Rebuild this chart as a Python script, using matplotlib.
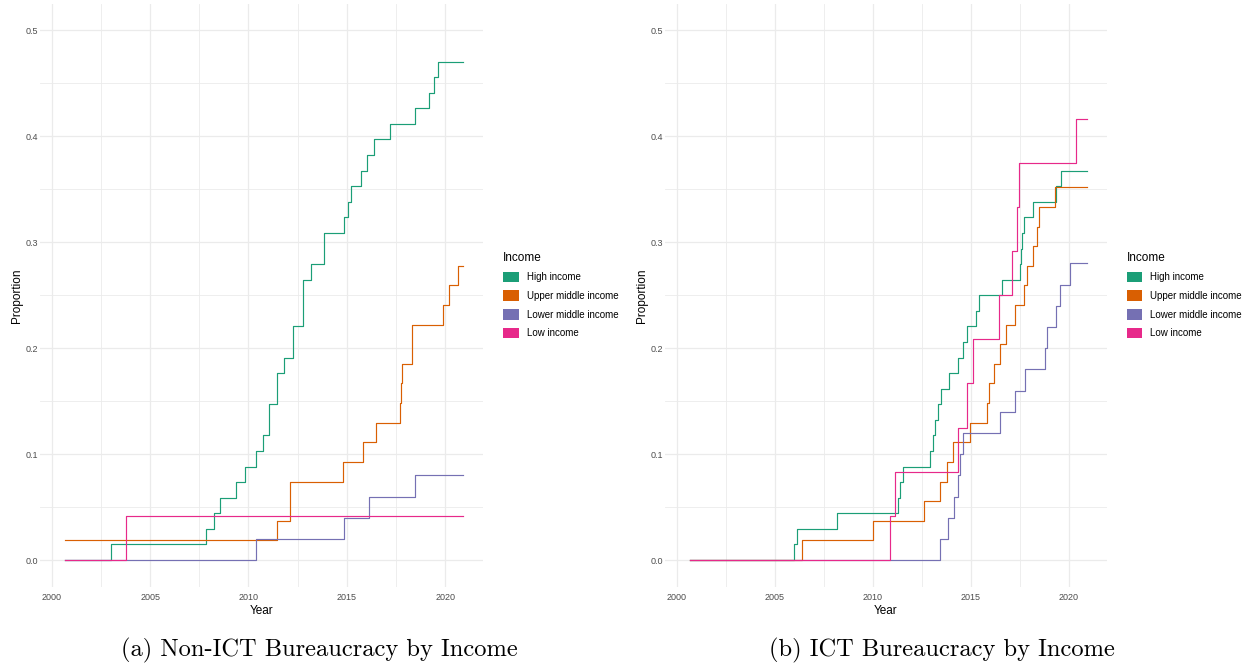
import numpy as np
import matplotlib
matplotlib.use("Agg")
from matplotlib import pyplot as plt
from matplotlib.patches import Patch

plt.rcParams['font.family'] = ['Liberation Sans', 'DejaVu Sans']

# Dark2 palette used for the income groups
groups = ["High income", "Upper middle income", "Lower middle income", "Low income"]
colors = ["#1B9E77", "#D95F02", "#7570B3", "#E7298A"]

# (a) Non-ICT bureaucracy: step change years and proportions
nonict_high_x = [2000.67, 2003.0, 2007.85, 2008.27, 2008.53, 2009.37, 2009.81, 2010.36, 2010.73,
                 2011.05, 2011.44, 2011.8, 2012.29, 2012.8, 2013.19, 2013.86, 2014.88, 2015.08,
                 2015.22, 2015.71, 2016.05, 2016.39, 2017.2, 2018.47, 2019.2, 2019.46, 2019.64, 2020.93]
nonict_high_y = [0.0, 0.0147, 0.0294, 0.0441, 0.0588, 0.0735, 0.0882, 0.1029, 0.1176,
                 0.1471, 0.1765, 0.1912, 0.2206, 0.2647, 0.2794, 0.3088, 0.3235, 0.3382,
                 0.3529, 0.3676, 0.3824, 0.3971, 0.4118, 0.4265, 0.4412, 0.4559, 0.4706, 0.4706]
nonict_upper_x = [2000.67, 2011.44, 2012.12, 2014.8, 2015.85, 2016.47, 2017.69, 2017.74, 2017.8,
                  2018.3, 2019.88, 2020.22, 2020.64, 2020.93]
nonict_upper_y = [0.0185, 0.037, 0.0741, 0.0926, 0.1111, 0.1296, 0.1481, 0.1667, 0.1852,
                  0.2222, 0.2407, 0.2593, 0.2778, 0.2778]
nonict_lower_x = [2000.67, 2010.36, 2014.88, 2016.12, 2018.47, 2020.93]
nonict_lower_y = [0.0, 0.02, 0.04, 0.06, 0.08, 0.08]
nonict_low_x = [2000.67, 2003.76, 2020.93]
nonict_low_y = [0.0, 0.0417, 0.0417]

# (b) ICT bureaucracy
ict_high_x = [2000.67, 2005.98, 2006.15, 2008.17, 2011.3, 2011.4, 2011.52, 2012.92, 2013.05,
              2013.15, 2013.3, 2013.5, 2013.88, 2014.36, 2014.6, 2014.78, 2015.25, 2015.42,
              2016.6, 2017.5, 2017.56, 2017.63, 2017.72, 2018.17, 2019.32, 2019.6, 2020.93]
ict_high_y = [0.0, 0.0147, 0.0294, 0.0441, 0.0588, 0.0735, 0.0882, 0.1029, 0.1176,
              0.1324, 0.1471, 0.1618, 0.1765, 0.1912, 0.2059, 0.2206, 0.2353, 0.25,
              0.2647, 0.2794, 0.2941, 0.3088, 0.3235, 0.3382, 0.3529, 0.3676, 0.3676]
ict_upper_x = [2000.67, 2006.4, 2010.03, 2012.6, 2013.42, 2013.8, 2014.1, 2014.95, 2015.8,
               2015.9, 2016.17, 2016.47, 2016.8, 2017.27, 2017.7, 2017.86, 2018.17, 2018.35,
               2018.47, 2019.27, 2020.93]
ict_upper_y = [0.0, 0.0185, 0.037, 0.0556, 0.0741, 0.0926, 0.1111, 0.1296, 0.1481,
               0.1667, 0.1852, 0.2037, 0.2222, 0.2407, 0.2593, 0.2778, 0.2963, 0.3148,
               0.3333, 0.3519, 0.3519]
ict_lower_x = [2000.67, 2013.42, 2013.85, 2014.14, 2014.32, 2014.47, 2014.6, 2016.5, 2017.25,
               2017.76, 2018.8, 2018.9, 2019.36, 2019.56, 2020.03, 2020.93]
ict_lower_y = [0.0, 0.02, 0.04, 0.06, 0.08, 0.10, 0.12, 0.14, 0.16,
               0.18, 0.20, 0.22, 0.24, 0.26, 0.28, 0.28]
ict_low_x = [2000.67, 2010.85, 2011.14, 2014.36, 2014.81, 2015.12, 2016.44, 2017.12, 2017.35,
             2017.45, 2020.37, 2020.93]
ict_low_y = [0.0, 0.0417, 0.0833, 0.125, 0.1667, 0.2083, 0.25, 0.2917, 0.3333,
             0.375, 0.4167, 0.4167]

panels = [
    ([(nonict_high_x, nonict_high_y), (nonict_upper_x, nonict_upper_y),
      (nonict_lower_x, nonict_lower_y), (nonict_low_x, nonict_low_y)],
     "(a) Non-ICT Bureaucracy by Income"),
    ([(ict_high_x, ict_high_y), (ict_upper_x, ict_upper_y),
      (ict_lower_x, ict_lower_y), (ict_low_x, ict_low_y)],
     "(b) ICT Bureaucracy by Income"),
]

fig = plt.figure(figsize=(12.49, 6.65), dpi=100)
ax_rects = [[0.0320, 0.118, 0.3549, 0.876], [0.5324, 0.118, 0.3539, 0.876]]
leg_x = [0.403, 0.9021]
cap_x = [0.2554, 0.7538]

for i, (series, caption) in enumerate(panels):
    ax = fig.add_axes(ax_rects[i])
    for (x, y), c in zip(series, colors):
        ax.step(x, y, where='post', color=c, lw=0.85)
    ax.set_xlim(1999.4, 2021.94)
    ax.set_ylim(-0.025, 0.525)
    ax.set_xticks([2000, 2005, 2010, 2015, 2020])
    ax.set_xticks([2002.5, 2007.5, 2012.5, 2017.5], minor=True)
    ax.set_yticks(np.arange(0, 0.51, 0.1))
    ax.set_yticklabels(["0.0", "0.1", "0.2", "0.3", "0.4", "0.5"])
    ax.set_yticks([0.05, 0.15, 0.25, 0.35, 0.45], minor=True)
    ax.grid(which='major', color='#EBEBEB', lw=0.9)
    ax.grid(which='minor', color='#EBEBEB', lw=0.6)
    ax.set_axisbelow(True)
    for s in ax.spines.values():
        s.set_visible(False)
    ax.tick_params(which='both', length=0, labelsize=6.5, labelcolor='#4D4D4D')
    ax.tick_params(axis='x', pad=5)
    ax.tick_params(axis='y', pad=1.5)
    ax.set_xlabel("Year", fontsize=8.5, labelpad=2)
    ax.set_ylabel("Proportion", fontsize=8.5, labelpad=1.5)

    handles = [Patch(facecolor=c, edgecolor='none') for c in colors]
    leg = fig.legend(handles, groups, title="Income", loc='upper left',
                     bbox_to_anchor=(leg_x[i], 0.6215), frameon=False, fontsize=7,
                     title_fontsize=8.5, handlelength=1.6, handleheight=1.3,
                     handletextpad=0.8, labelspacing=0.83, borderaxespad=0, borderpad=0)
    leg._legend_box.align = "left"

    fig.text(cap_x[i], 0.022, caption, ha='center', va='center', fontsize=17.6,
             family=['cmr10', 'DejaVu Serif'])

fig.savefig("out.png", dpi=100)
